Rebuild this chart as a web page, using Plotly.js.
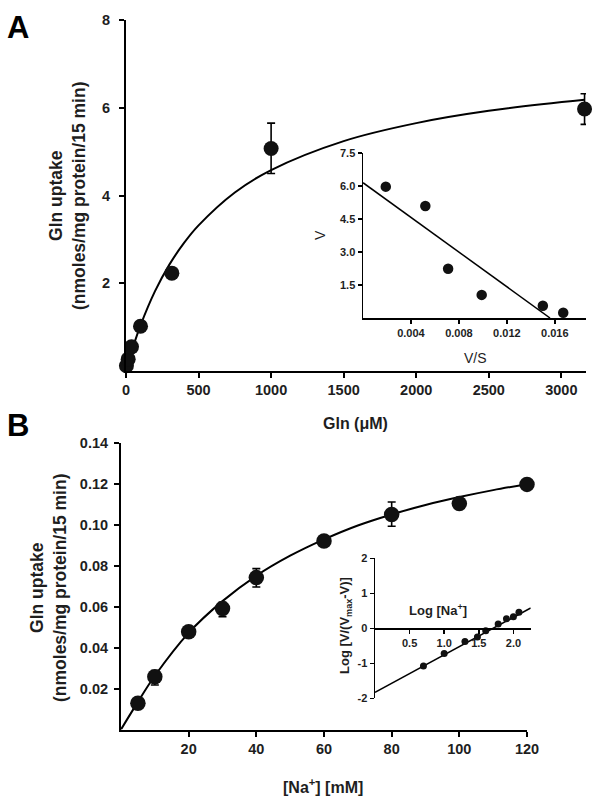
<!DOCTYPE html>
<html>
<head>
<meta charset="utf-8">
<script src="https://cdn.plot.ly/plotly-3.0.1.min.js"></script>
<style>html,body{margin:0;padding:0;background:#fff;}#chart{width:605px;height:804px;}</style>
</head>
<body>
<div id="chart"></div>
<script>
// ---- Panel A: Gln concentration dependence ----
var glnConc = [3, 15, 38, 100, 316, 1000, 3160];
var glnUptake = [0.12, 0.27, 0.55, 1.02, 2.23, 5.07, 5.97];
var glnErrPlus = [0, 0, 0, 0, 0, 0.58, 0.35];
var glnErrMinus = [0, 0, 0, 0, 0, 0.57, 0.35];
var glnFitX = [0, 25, 50, 100, 200, 300, 400, 500, 750, 1000, 1500, 2000, 2500, 3160];
var glnFitY = [0, 0.29, 0.56, 1.04, 1.82, 2.43, 2.92, 3.32, 4.07, 4.58, 5.24, 5.65, 5.93, 6.18];
var glnXTicks = [0, 500, 1000, 1500, 2000, 2500, 3000];
var glnYTicks = [2, 4, 6, 8];
// Eadie-Hofstee inset
var ehVS = [0.0019, 0.0052, 0.0071, 0.0099, 0.0150, 0.0167];
var ehV = [5.97, 5.09, 2.24, 1.05, 0.56, 0.24];
var ehLineX = [0, 0.0156];
var ehLineY = [6.15, 0];
var ehXTicks = [0.004, 0.008, 0.012, 0.016];
var ehXLabels = ['0.004', '0.008', '0.012', '0.016'];
var ehYTicks = [1.5, 3.0, 4.5, 6.0, 7.5];
var ehYLabels = ['1.5', '3.0', '4.5', '6.0', '7.5'];

// ---- Panel B: Na+ dependence ----
var naConc = [5, 10, 20, 30, 40, 60, 80, 100, 120];
var naUptake = [0.0128, 0.0258, 0.0478, 0.0592, 0.0743, 0.0922, 0.1052, 0.1105, 0.1199];
var naErrPlus = [0, 0.003, 0, 0.003, 0.0044, 0, 0.0061, 0, 0];
var naErrMinus = [0, 0.004, 0, 0.004, 0.0046, 0, 0.0058, 0, 0];
var naFitX = [0, 5, 10, 20, 30, 40, 50, 60, 70, 80, 90, 100, 110, 120];
var naFitY = [0, 0.0135, 0.0263, 0.0473, 0.0628, 0.0752, 0.0850, 0.0930, 0.0998, 0.1052, 0.1098, 0.1137, 0.1171, 0.1200];
var naXTicks = [20, 40, 60, 80, 100, 120];
var naYTicks = [0.02, 0.04, 0.06, 0.08, 0.10, 0.12, 0.14];
var naYLabels = ['0.02', '0.04', '0.06', '0.08', '0.10', '0.12', '0.14'];
// Hill plot inset
var hillLogNa = [0.70, 1.00, 1.30, 1.48, 1.60, 1.78, 1.90, 2.00, 2.08];
var hillLogV = [-1.08, -0.72, -0.38, -0.25, -0.07, 0.12, 0.27, 0.33, 0.46];
var hillLineX = [0, 2.25];
var hillLineY = [-1.83, 0.58];
var hillXTicks = [0.5, 1.0, 1.5, 2.0];
var hillXLabels = ['0.5', '1.0', '1.5', '2.0'];
var hillYTicks = [-2, -1, 0, 1, 2];

var FONT = 'Arial, "Liberation Sans", sans-serif';
var TXT = '#1e1e1e';
var W = 605, H = 804;
function px(v){ return v / W; }
function py(v){ return 1 - v / H; }
function bold(arr){ return arr.map(function(s){ return '<b>' + s + '</b>'; }); }

var traces = [
  {x: glnFitX, y: glnFitY, xaxis: 'x', yaxis: 'y', mode: 'lines', line: {color: '#000', width: 2, shape: 'spline'}},
  {x: glnConc, y: glnUptake, xaxis: 'x', yaxis: 'y', mode: 'markers', cliponaxis: false,
   marker: {size: 15, color: '#111'},
   error_y: {type: 'data', symmetric: false, array: glnErrPlus, arrayminus: glnErrMinus, color: '#000', thickness: 1.6, width: 4}},
  {x: ehLineX, y: ehLineY, xaxis: 'x2', yaxis: 'y2', mode: 'lines', line: {color: '#000', width: 1.5}},
  {x: ehVS, y: ehV, xaxis: 'x2', yaxis: 'y2', mode: 'markers', cliponaxis: false, marker: {size: 10.5, color: '#111'}},
  {x: naFitX, y: naFitY, xaxis: 'x3', yaxis: 'y3', mode: 'lines', line: {color: '#000', width: 2, shape: 'spline'}},
  {x: naConc, y: naUptake, xaxis: 'x3', yaxis: 'y3', mode: 'markers', cliponaxis: false,
   marker: {size: 15.5, color: '#111'},
   error_y: {type: 'data', symmetric: false, array: naErrPlus, arrayminus: naErrMinus, color: '#000', thickness: 1.6, width: 4}},
  {x: hillLineX, y: hillLineY, xaxis: 'x4', yaxis: 'y4', mode: 'lines', line: {color: '#000', width: 1.5}},
  {x: hillLogNa, y: hillLogV, xaxis: 'x4', yaxis: 'y4', mode: 'markers', cliponaxis: false, marker: {size: 7, color: '#111'}}
];

function axisBase(extra){
  var a = {showline: true, linecolor: '#000', linewidth: 2, ticks: 'outside', ticklen: 5, tickwidth: 2, tickcolor: '#000',
    showgrid: false, zeroline: false, tickfont: {family: FONT, size: 14.5, color: TXT}, fixedrange: true};
  for (var k in extra) a[k] = extra[k];
  return a;
}
function insetAxis(extra){
  var a = {showline: true, linecolor: '#000', linewidth: 1.5, ticks: 'outside', ticklen: 4, tickwidth: 1.5, tickcolor: '#000',
    showgrid: false, zeroline: false, tickfont: {family: FONT, size: 11, color: TXT}, fixedrange: true};
  for (var k in extra) a[k] = extra[k];
  return a;
}
function ann(text, x, y, size, angle, isBold){
  return {text: isBold ? '<b>' + text + '</b>' : text, x: px(x), y: py(y), xref: 'paper', yref: 'paper',
    xanchor: 'center', yanchor: 'middle', textangle: angle || 0, showarrow: false,
    font: {family: FONT, size: size, color: TXT}};
}

var layout = {
  width: W, height: H,
  margin: {l: 0, r: 0, t: 0, b: 0},
  paper_bgcolor: '#fff', plot_bgcolor: 'rgba(0,0,0,0)',
  showlegend: false,
  font: {family: FONT, color: TXT},
  xaxis: axisBase({domain: [px(126), px(586)], range: [0, 3170], anchor: 'y', tickvals: glnXTicks, ticktext: bold(glnXTicks.map(String))}),
  yaxis: axisBase({domain: [py(371), py(20)], range: [0, 8], anchor: 'x', tickvals: glnYTicks, ticktext: bold(glnYTicks.map(String)), ticklabelstandoff: 6}),
  xaxis2: insetAxis({domain: [px(363), px(586)], range: [0, 0.0186], anchor: 'y2', tickvals: ehXTicks, ticktext: bold(ehXLabels)}),
  yaxis2: insetAxis({domain: [py(318), py(153)], range: [0, 7.5], anchor: 'x2', tickvals: ehYTicks, ticktext: bold(ehYLabels)}),
  xaxis3: axisBase({domain: [px(121), px(527)], range: [0, 120], anchor: 'y3', tickvals: naXTicks, ticktext: bold(naXTicks.map(String))}),
  yaxis3: axisBase({domain: [py(729.5), py(443.3)], range: [0, 0.14], anchor: 'x3', tickvals: naYTicks, ticktext: bold(naYLabels), ticklabelstandoff: 3}),
  xaxis4: insetAxis({domain: [px(375), px(530.7)], range: [0, 2.25], anchor: 'free', position: (py(698.3) + py(558.3)) / 2, tickvals: hillXTicks, ticktext: bold(hillXLabels)}),
  yaxis4: insetAxis({domain: [py(698.3), py(558.3)], range: [-2, 2], anchor: 'x4', tickvals: hillYTicks, ticktext: bold(hillYTicks.map(String))}),
  annotations: [
    {text: '<b>A</b>', x: px(5), y: py(8), xref: 'paper', yref: 'paper', xanchor: 'left', yanchor: 'top', showarrow: false, font: {family: FONT, size: 31, color: '#000'}},
    {text: '<b>B</b>', x: px(5), y: py(406), xref: 'paper', yref: 'paper', xanchor: 'left', yanchor: 'top', showarrow: false, font: {family: FONT, size: 31, color: '#000'}},
    ann('Gln uptake<br>(nmoles/mg protein/15 min)', 67, 196, 17.5, -90, true),
    ann('Gln (μM)', 355, 423, 16, 0, true),
    ann('V', 320, 235, 14, -90, false),
    ann('V/S', 475, 358, 14, 0, false),
    ann('Gln uptake<br>(nmoles/mg protein/15 min)', 48, 588, 17.5, -90, true),
    ann('[Na<sup>+</sup>] [mM]', 323, 786, 16, 0, true),
    ann('Log [Na<sup>+</sup>]', 438, 610, 13, 0, true),
    ann('Log [V/(V<sub>max</sub>-V)]', 345, 626, 13, -90, true)
  ]
};

Plotly.newPlot('chart', traces, layout, {displayModeBar: false, staticPlot: true});
</script>
</body>
</html>
